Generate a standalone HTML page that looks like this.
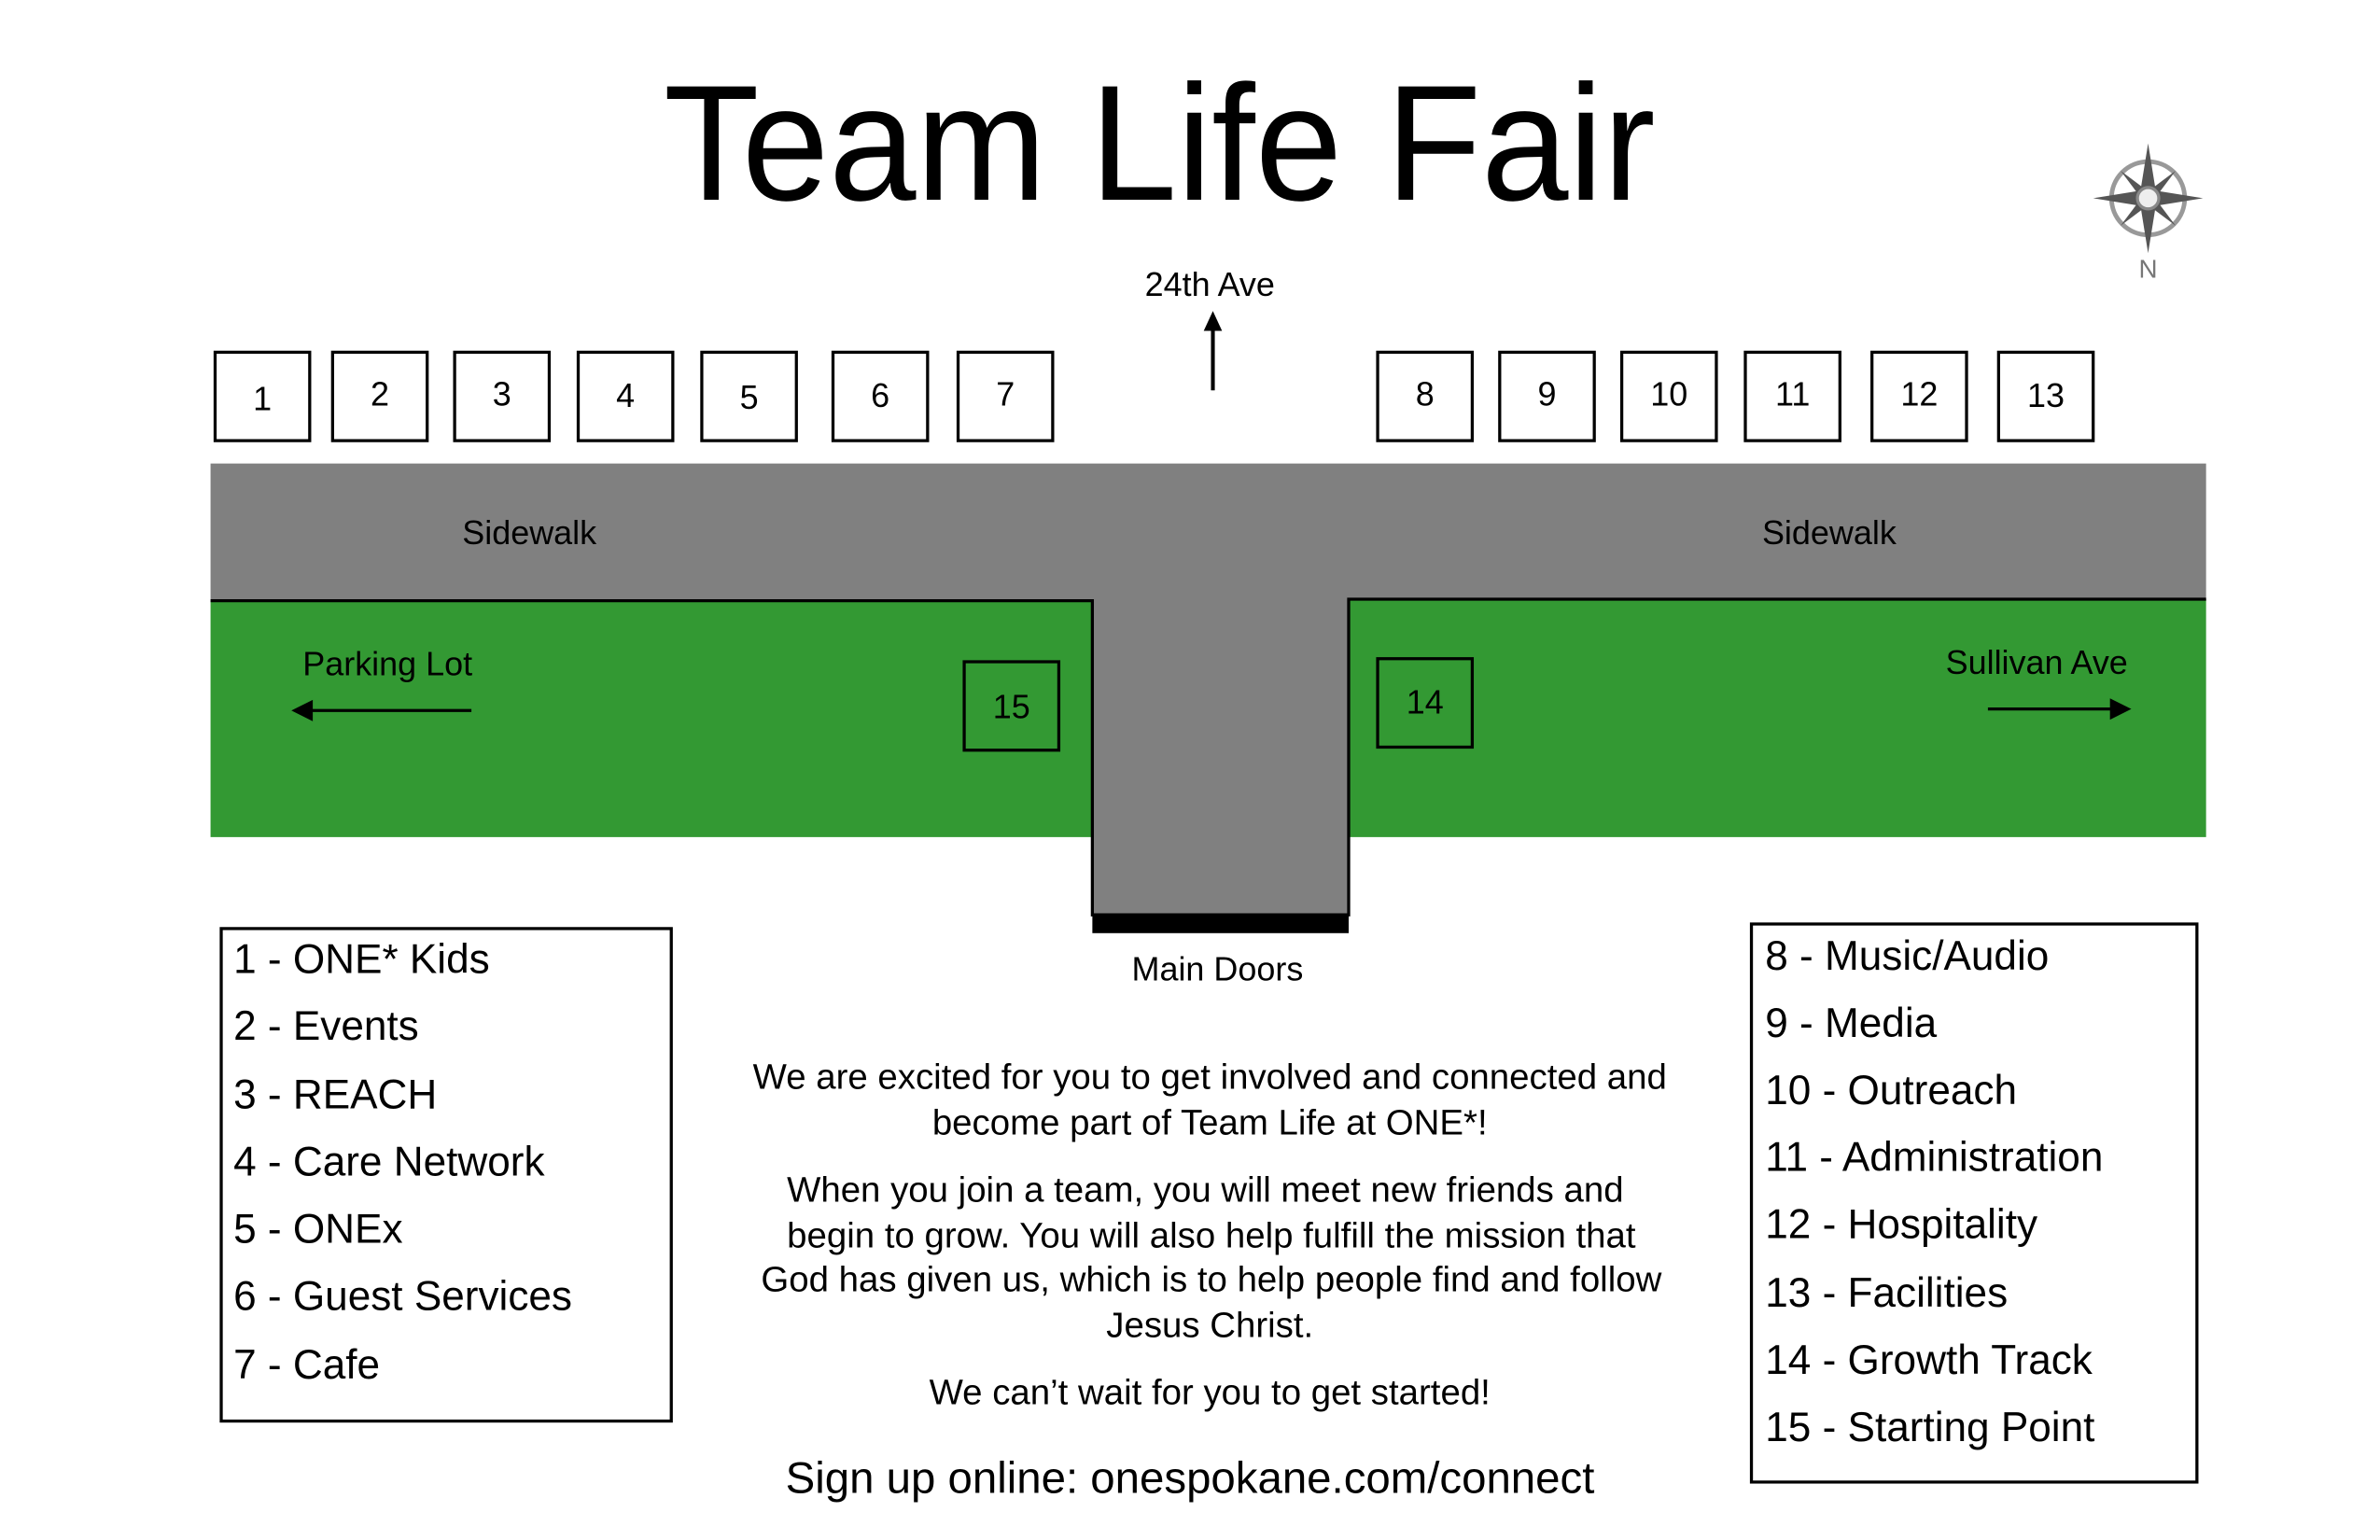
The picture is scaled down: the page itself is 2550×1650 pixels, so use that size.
<!DOCTYPE html>
<html><head><meta charset="utf-8"><style>
html,body{margin:0;padding:0;background:#fff;}
svg{display:block;}
text{font-family:"Liberation Sans",sans-serif;fill:#000;}
</style></head><body>
<svg width="2550" height="1650" viewBox="0 0 1560 1010" preserveAspectRatio="none" xmlns="http://www.w3.org/2000/svg">
<rect width="1560" height="1010" fill="#fff"/>
<text x="760" y="131" font-size="108" text-anchor="middle" textLength="650" lengthAdjust="spacingAndGlyphs">Team Life Fair</text>
<g transform="translate(1408,130)">
<circle r="24" fill="none" stroke="#999" stroke-width="3"/>
<g fill="#555">
<polygon points="0,-36 5,-5 0,0 -5,-5"/><polygon points="0,36 5,5 0,0 -5,5"/>
<polygon points="-36,0 -5,5 0,0 -5,-5"/><polygon points="36,0 5,5 0,0 5,-5"/>
<polygon points="-18,-18 -2,-6 -6,-2"/><polygon points="18,-18 2,-6 6,-2"/>
<polygon points="-18,18 -2,6 -6,2"/><polygon points="18,18 2,6 6,2"/>
</g>
<circle r="7" fill="#eee" stroke="#888" stroke-width="2"/>
<text x="0" y="52" font-size="17" text-anchor="middle" style="fill:#777">N</text>
</g>
<text x="793" y="194" font-size="22" text-anchor="middle">24th Ave</text>
<line x1="795" y1="256" x2="795" y2="214" stroke="#000" stroke-width="2.5"/>
<polygon points="795,204 789,217 801,217" fill="#000"/>
<g fill="#fff" stroke="#000" stroke-width="2">
<rect x="141" y="231" width="62" height="58"/><rect x="218" y="231" width="62" height="58"/>
<rect x="298" y="231" width="62" height="58"/><rect x="379" y="231" width="62" height="58"/>
<rect x="460" y="231" width="62" height="58"/><rect x="546" y="231" width="62" height="58"/>
<rect x="628" y="231" width="62" height="58"/><rect x="903" y="231" width="62" height="58"/>
<rect x="983" y="231" width="62" height="58"/><rect x="1063" y="231" width="62" height="58"/>
<rect x="1144" y="231" width="62" height="58"/><rect x="1227" y="231" width="62" height="58"/>
<rect x="1310" y="231" width="62" height="58"/>
</g>
<g font-size="22" text-anchor="middle">
<text x="172" y="269">1</text><text x="249" y="266">2</text><text x="329" y="266">3</text>
<text x="410" y="267">4</text><text x="491" y="268">5</text><text x="577" y="267">6</text>
<text x="659" y="266">7</text><text x="934" y="266">8</text><text x="1014" y="266">9</text>
<text x="1094" y="266">10</text><text x="1175" y="266">11</text><text x="1258" y="266">12</text>
<text x="1341" y="267">13</text>
</g>
<rect x="138" y="304" width="1308" height="90" fill="#808080"/>
<rect x="716" y="393" width="168" height="207" fill="#808080"/>
<rect x="716" y="599" width="168" height="13" fill="#000"/>
<rect x="138" y="394" width="578" height="155" fill="#339933"/>
<rect x="884" y="393" width="562" height="156" fill="#339933"/>
<polyline points="138,394 716,394 716,600 884,600 884,393 1446,393" fill="none" stroke="#000" stroke-width="2"/>
<g font-size="22" text-anchor="middle">
<text x="347" y="357">Sidewalk</text><text x="1199" y="357">Sidewalk</text>
<text x="254" y="443">Parking Lot</text><text x="1335" y="442">Sullivan Ave</text>
<text x="798" y="643">Main Doors</text>
</g>
<line x1="309" y1="466" x2="202" y2="466" stroke="#000" stroke-width="2"/>
<polygon points="191,466 205,459 205,473" fill="#000"/>
<line x1="1303" y1="465" x2="1385" y2="465" stroke="#000" stroke-width="2"/>
<polygon points="1397,465 1383,458 1383,472" fill="#000"/>
<rect x="632" y="434" width="62" height="58" fill="none" stroke="#000" stroke-width="2"/>
<rect x="903" y="432" width="62" height="58" fill="none" stroke="#000" stroke-width="2"/>
<text x="663" y="471" font-size="22" text-anchor="middle">15</text>
<text x="934" y="468" font-size="22" text-anchor="middle">14</text>
<rect x="145" y="609" width="295" height="323" fill="none" stroke="#000" stroke-width="2"/>
<g font-size="27">
<text x="153" y="638">1 - ONE* Kids</text><text x="153" y="682">2 - Events</text>
<text x="153" y="727">3 - REACH</text><text x="153" y="771">4 - Care Network</text>
<text x="153" y="815">5 - ONEx</text><text x="153" y="859">6 - Guest Services</text>
<text x="153" y="904">7 - Cafe</text>
</g>
<rect x="1148" y="606" width="292" height="366" fill="none" stroke="#000" stroke-width="2"/>
<g font-size="27">
<text x="1157" y="636">8 - Music/Audio</text><text x="1157" y="680">9 - Media</text>
<text x="1157" y="724">10 - Outreach</text><text x="1157" y="768">11 - Administration</text>
<text x="1157" y="812">12 - Hospitality</text><text x="1157" y="857">13 - Facilities</text>
<text x="1157" y="901">14 - Growth Track</text><text x="1157" y="945">15 - Starting Point</text>
</g>
<g font-size="23.5" text-anchor="middle">
<text x="793" y="714">We are excited for you to get involved and connected and</text>
<text x="793" y="744">become part of Team Life at ONE*!</text>
<text x="790" y="788">When you join a team, you will meet new friends and</text>
<text x="794" y="818">begin to grow. You will also help fulfill the mission that</text>
<text x="794" y="847">God has given us, which is to help people find and follow</text>
<text x="793" y="877">Jesus Christ.</text>
<text x="793" y="921">We can’t wait for you to get started!</text>
</g>
<text x="780" y="979" font-size="29" text-anchor="middle">Sign up online: onespokane.com/connect</text>
</svg>
</body></html>
